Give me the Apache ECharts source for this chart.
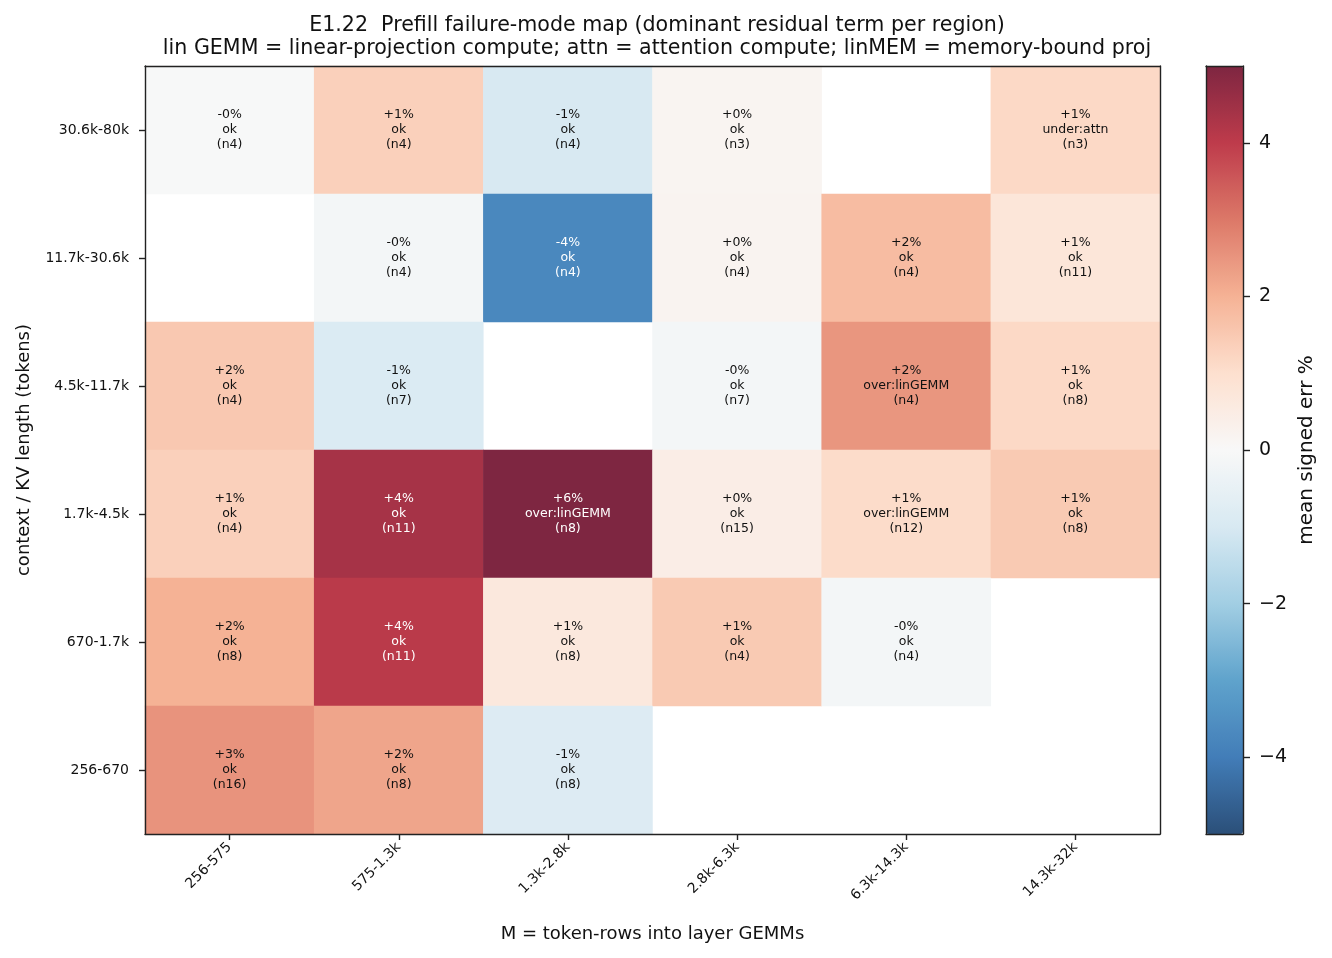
<!DOCTYPE html>
<html><head><meta charset="utf-8">
<script src="https://cdn.jsdelivr.net/npm/echarts@6/dist/echarts.min.js"></script>
<style>html,body{margin:0;padding:0;background:#fff}#c{width:1332px;height:958px}</style>
</head><body><div id="c"></div>
<script>
// ---- data ----
const xCategories = ['256-575', '575-1.3k', '1.3k-2.8k', '2.8k-6.3k', '6.3k-14.3k', '14.3k-32k'];
// rows listed top to bottom as in the picture
const yCategoriesTopDown = ['30.6k-80k', '11.7k-30.6k', '4.5k-11.7k', '1.7k-4.5k', '670-1.7k', '256-670'];
const meanErr = [
  [-0.03, 1.35, -1.0, 0.17, null, 1.15],
  [null, -0.16, -3.72, 0.2, 1.78, 0.75],
  [1.52, -0.9, null, -0.16, 2.48, 1.15],
  [1.35, 4.38, 6.0, 0.45, 1.09, 1.48],
  [2.0, 4.06, 0.67, 1.48, -0.16, null],
  [2.53, 2.22, -0.84, null, null, null]
];
const dominantTerm = [
  ['ok', 'ok', 'ok', 'ok', null, 'under:attn'],
  [null, 'ok', 'ok', 'ok', 'ok', 'ok'],
  ['ok', 'ok', null, 'ok', 'over:linGEMM', 'ok'],
  ['ok', 'ok', 'over:linGEMM', 'ok', 'over:linGEMM', 'ok'],
  ['ok', 'ok', 'ok', 'ok', 'ok', null],
  ['ok', 'ok', 'ok', null, null, null]
];
const sampleCount = [
  [4, 4, 4, 3, null, 3],
  [null, 4, 4, 4, 4, 11],
  [4, 7, null, 7, 4, 8],
  [4, 11, 8, 15, 12, 8],
  [8, 11, 8, 4, 4, null],
  [16, 8, 8, null, null, null]
];
const colorbarTicks = [-4, -2, 0, 2, 4];
const colorMin = -5, colorMax = 5;

// ---- styles ----
// RdBu_r stops, pre-blended with white at alpha 0.85
const cmap = ['#2b4f79', '#427db8', '#5fa3cc', '#a2cee3', '#d8e9f2', '#f8f8f8',
              '#fde0cf', '#f5b295', '#dc7868', '#be3b4b', '#7e2641'];
const FONT = 'DejaVu Sans';
const INK = '#111111';
const lineStyle = { color: '#222222', width: 1.4 };

const yCategories = yCategoriesTopDown.slice().reverse();
const nRows = yCategoriesTopDown.length;
const cells = [];
meanErr.forEach((row, r) => {
  row.forEach((v, c) => {
    if (v === null) return;
    const pct = (v < 0 ? '-' : '+') + Math.abs(Math.round(v)) + '%';
    cells.push({
      value: [c, nRows - 1 - r, v],
      text: pct + '\n' + dominantTerm[r][c] + '\n(n' + sampleCount[r][c] + ')',
      label: { color: Math.abs(v) > 3 ? '#ffffff' : INK }
    });
  });
});

const chart = echarts.init(document.getElementById('c'), null, { renderer: 'canvas' });
const lineOnlyAxis = (extra) => Object.assign({
  axisLine: { show: true, onZero: false, lineStyle },
  axisTick: { show: false }, axisLabel: { show: false }, splitLine: { show: false }, z: 10
}, extra);

chart.setOption({
  animation: false,
  backgroundColor: '#ffffff',
  textStyle: { fontFamily: FONT },
  title: {
    text: 'E1.22  Prefill failure-mode map (dominant residual term per region)\nlin GEMM = linear-projection compute; attn = attention compute; linMEM = memory-bound proj',
    left: 652, top: 9, textAlign: 'center',
    textStyle: { fontFamily: FONT, fontSize: 20.6, fontWeight: 'normal', lineHeight: 23, color: INK }
  },
  grid: [
    { left: 145, top: 66, width: 1015, height: 768 },
    { left: 1206, top: 66, width: 37, height: 768 }
  ],
  xAxis: [
    {
      gridIndex: 0, type: 'category', data: xCategories, position: 'bottom',
      axisLine: { show: true, lineStyle },
      axisTick: { show: true, alignWithLabel: true, length: 6, lineStyle },
      axisLabel: { rotate: 45, interval: 0, fontSize: 14, color: INK, margin: 11, fontFamily: FONT },
      splitLine: { show: false },
      name: 'M = token-rows into layer GEMMs', nameLocation: 'middle', nameGap: 91,
      nameTextStyle: { fontSize: 18, color: INK, fontFamily: FONT }, z: 10
    },
    lineOnlyAxis({ gridIndex: 0, type: 'category', data: xCategories, position: 'top' }),
    lineOnlyAxis({ gridIndex: 1, type: 'value', min: 0, max: 1, position: 'bottom' }),
    lineOnlyAxis({ gridIndex: 1, type: 'value', min: 0, max: 1, position: 'top' })
  ],
  yAxis: [
    {
      gridIndex: 0, type: 'category', data: yCategories, position: 'left',
      axisLine: { show: true, lineStyle },
      axisTick: { show: true, alignWithLabel: true, length: 6, lineStyle },
      axisLabel: { fontSize: 14, color: INK, margin: 16, fontFamily: FONT },
      splitLine: { show: false },
      name: 'context / KV length (tokens)', nameLocation: 'middle', nameGap: 112, nameRotate: 90,
      nameTextStyle: { fontSize: 18, color: INK, fontFamily: FONT }, z: 10
    },
    lineOnlyAxis({ gridIndex: 0, type: 'category', data: yCategories, position: 'right' }),
    {
      gridIndex: 1, type: 'value', min: colorMin, max: colorMax, position: 'right',
      axisLine: { show: true, onZero: false, lineStyle },
      axisTick: { show: true, length: 7, lineStyle, customValues: colorbarTicks },
      axisLabel: {
        fontSize: 19, color: INK, margin: 16, fontFamily: FONT, customValues: colorbarTicks,
        formatter: (v) => (v < 0 ? '\u2212' + Math.abs(v) : String(v))
      },
      splitLine: { show: false },
      name: 'mean signed err %', nameLocation: 'middle', nameGap: 54, nameRotate: 90,
      nameTextStyle: { fontSize: 20, color: INK, fontFamily: FONT }, z: 10
    },
    lineOnlyAxis({ gridIndex: 1, type: 'value', min: colorMin, max: colorMax, position: 'left' })
  ],
  visualMap: {
    type: 'continuous', seriesIndex: 0, dimension: 2, min: colorMin, max: colorMax,
    inRange: { color: cmap }, calculable: false, hoverLink: false,
    orient: 'vertical', left: 1206, top: 66, itemWidth: 37, itemHeight: 768, padding: 0,
    text: null, showLabel: false, z: 4
  },
  series: [{
    type: 'heatmap', xAxisIndex: 0, yAxisIndex: 0, data: cells,
    itemStyle: { borderWidth: 0 },
    emphasis: { disabled: true },
    label: {
      show: true, fontSize: 12.5, lineHeight: 15, fontFamily: FONT,
      formatter: (p) => p.data.text
    }
  }]
});
</script></body></html>
